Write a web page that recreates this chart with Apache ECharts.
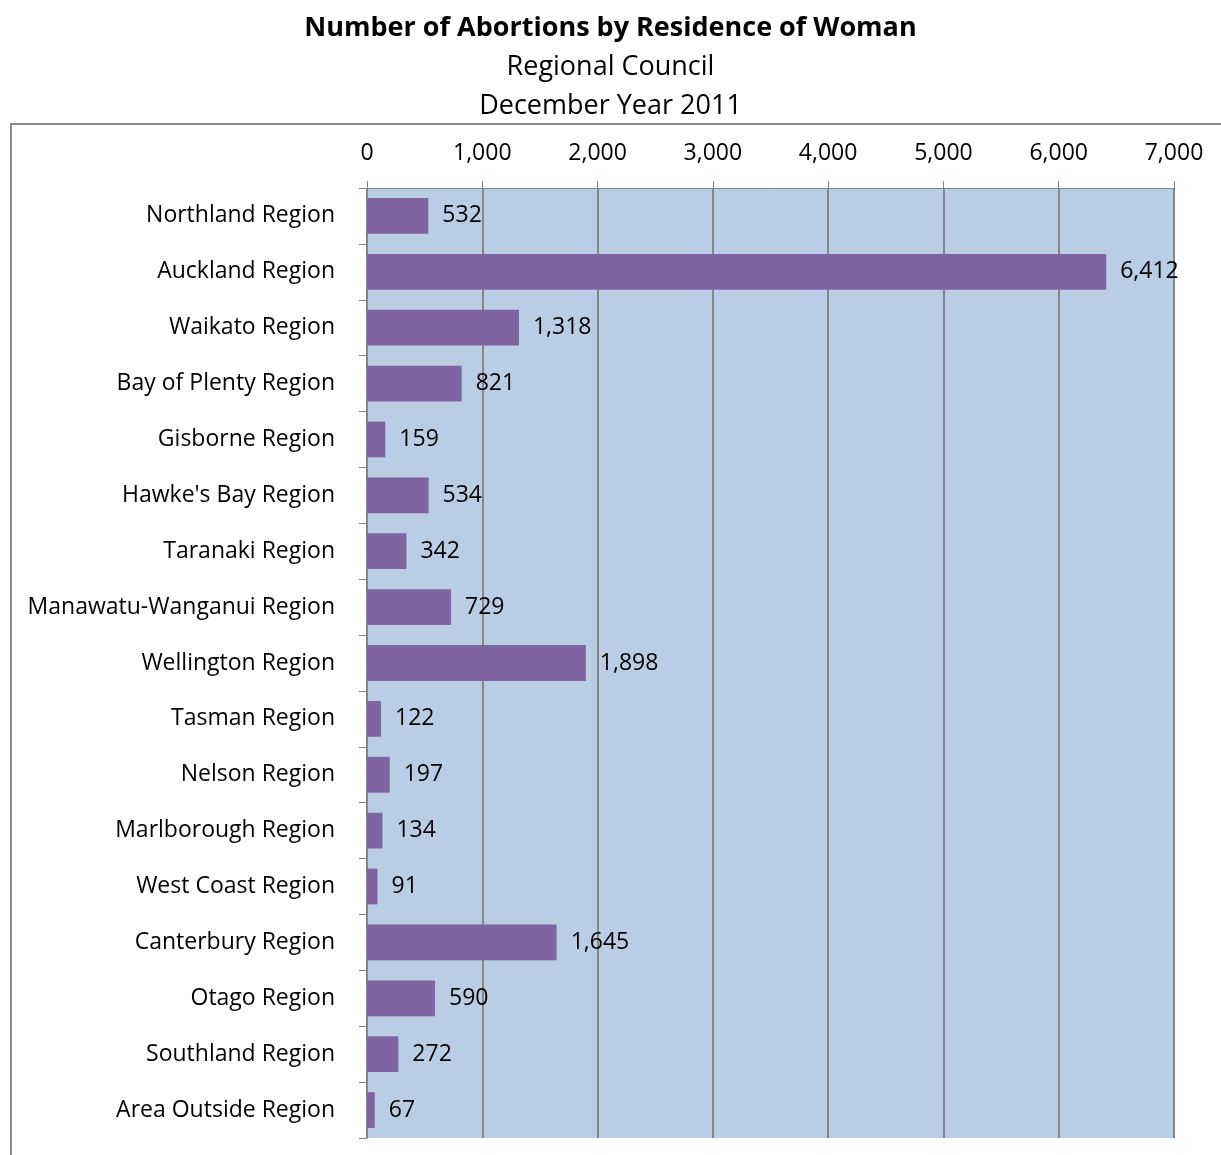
<!DOCTYPE html>
<html>
<head>
<meta charset="utf-8">
<script src="https://cdn.jsdelivr.net/npm/echarts@6/dist/echarts.min.js"></script>
<style>
  html, body { margin: 0; padding: 0; background: #fff; }
  #chart { width: 1221px; height: 1155px; }
</style>
</head>
<body>
<div id="chart"></div>
<script>
// Regional councils, top to bottom
const regions = [
  'Northland Region', 'Auckland Region', 'Waikato Region', 'Bay of Plenty Region',
  'Gisborne Region', "Hawke's Bay Region", 'Taranaki Region', 'Manawatu-Wanganui Region',
  'Wellington Region', 'Tasman Region', 'Nelson Region', 'Marlborough Region',
  'West Coast Region', 'Canterbury Region', 'Otago Region', 'Southland Region',
  'Area Outside Region'
];
// Abortions by residence of woman, December year 2011
const abortions = [532, 6412, 1318, 821, 159, 534, 342, 729, 1898, 122, 197, 134, 91, 1645, 590, 272, 67];

const titleText = 'Number of Abortions by Residence of Woman';
const subtitleLines = ['Regional Council', 'December Year 2011'];

const FONT = '"Open Sans", Lato, sans-serif';
const fmt = v => Number(v).toLocaleString('en-US');

const chart = echarts.init(document.getElementById('chart'), null, { renderer: 'canvas' });

chart.setOption({
  animation: false,
  backgroundColor: '#ffffff',
  textStyle: { fontFamily: FONT },
  title: [
    {
      text: titleText,
      left: 'center',
      top: 10,
      textStyle: { fontFamily: FONT, fontWeight: 'bold', fontSize: 27, color: '#000' }
    },
    {
      text: subtitleLines.join('\n'),
      left: 'center',
      top: 43,
      textStyle: { fontFamily: FONT, fontWeight: 'normal', fontSize: 27, lineHeight: 39, color: '#000' }
    }
  ],
  graphic: [
    {
      type: 'rect',
      shape: { x: 11, y: 124, width: 1230, height: 1060 },
      style: { fill: 'none', stroke: '#8c8c8c', lineWidth: 2 },
      silent: true
    }
  ],
  grid: {
    left: 367,
    right: 47,
    top: 188,
    bottom: 17,
    show: true,
    backgroundColor: '#B9CDE5',
    borderWidth: 0
  },
  xAxis: {
    type: 'value',
    position: 'top',
    min: 0,
    max: 7000,
    interval: 1000,
    axisLine: { show: true, lineStyle: { color: '#868686', width: 1 } },
    axisTick: { show: true, length: 7, lineStyle: { color: '#868686' } },
    axisLabel: {
      formatter: v => fmt(v),
      fontSize: 23,
      color: '#000',
      margin: 23,
      fontFamily: FONT
    },
    splitLine: { show: true, lineStyle: { color: '#868686', width: 2 } }
  },
  yAxis: {
    type: 'category',
    data: regions,
    inverse: true,
    axisLine: { show: true, lineStyle: { color: '#868686', width: 1 } },
    axisTick: { show: true, length: 8, lineStyle: { color: '#868686' } },
    axisLabel: { fontSize: 23, color: '#000', margin: 32, padding: [8, 0, 0, 0], fontFamily: FONT }
  },
  series: [
    {
      type: 'bar',
      data: abortions,
      barCategoryGap: '36%',
      itemStyle: { color: '#8064A2' },
      label: {
        show: true,
        position: 'right',
        distance: 14,
        padding: [8, 0, 0, 0],
        formatter: p => fmt(p.value),
        fontSize: 23,
        color: '#000',
        fontFamily: FONT
      }
    }
  ]
});
</script>
</body>
</html>
